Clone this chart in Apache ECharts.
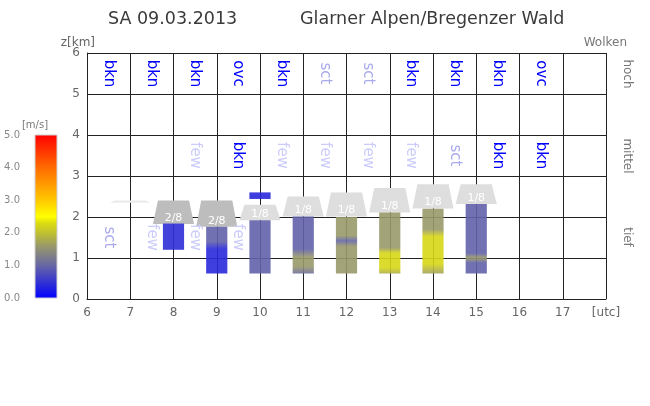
<!DOCTYPE html>
<html><head><meta charset="utf-8">
<script src="https://cdn.jsdelivr.net/npm/echarts@6/dist/echarts.min.js"></script>
<style>html,body{margin:0;padding:0;background:#fff}#c{width:650px;height:406px}</style>
</head><body><div id="c"></div>
<script>
// ---- data ----
const xTicks = [6,7,8,9,10,11,12,13,14,15,16,17,18];
const xTickLabels = ['6','7','8','9','10','11','12','13','14','15','16','17','[utc]'];
const speedTickLabels = ['0.0','1.0','2.0','3.0','4.0','5.0'];

// colour scale: wind speed [m/s] -> colour
const scaleSpeeds = [0, 1, 1.6, 2, 2.3, 2.5, 3, 4, 5];
const scaleColors = ['#0000ff','#6666a6','#99996a','#c0c030','#dcdc12','#ffff00','#ffc800','#ff6a00','#ff0000'];

// vertical wind bars (km) at hours
const barHours  = [8, 9, 10, 10, 11, 12, 13, 14, 15];
const barBottom = [1.20, 0.62, 0.62, 2.44, 0.62, 0.62, 0.62, 0.62, 0.62];
const barTop    = [1.84, 1.76, 1.92, 2.60, 2.01, 2.00, 2.11, 2.20, 2.32];
// wind speed profile per bar: [km, m/s] from top to bottom
const barProfiles = [
  [[1.84,0.45],[1.20,0.45]],
  [[1.76,0.95],[1.40,0.95],[1.22,0.4],[0.62,0.4]],
  [[1.92,0.95],[0.62,0.95]],
  [[2.60,0.4],[2.44,0.4]],
  [[2.01,0.95],[1.22,0.95],[1.02,1.6],[0.80,1.6],[0.62,1.1]],
  [[2.00,1.6],[1.55,1.6],[1.42,1.0],[1.28,1.6],[0.62,1.6]],
  [[2.11,1.6],[1.25,1.6],[1.12,2.25],[0.76,2.25],[0.62,1.8]],
  [[2.20,1.6],[1.70,1.6],[1.52,2.25],[0.86,2.25],[0.62,1.7]],
  [[2.32,0.95],[1.12,0.95],[1.00,1.6],[0.88,0.95],[0.62,0.95]]
];

// cloud cover symbols (km)
const trapHours  = [7, 8, 9, 10, 11, 12, 13, 14, 15];
const trapBottom = [2.35, 1.83, 1.76, 1.92, 2.01, 2.01, 2.11, 2.21, 2.32];
const trapTop    = [2.40, 2.40, 2.40, 2.30, 2.50, 2.60, 2.71, 2.80, 2.80];
const trapCover  = ['', '2/8', '2/8', '1/8', '1/8', '1/8', '1/8', '1/8', '1/8'];

// cloud type labels per hour cell
const cellCenters = [6.5,7.5,8.5,9.5,10.5,11.5,12.5,13.5,14.5,15.5,16.5,17.5];
const highLabels = ['bkn','bkn','bkn','ovc','bkn','sct','sct','bkn','bkn','bkn','ovc',''];
const midLabels  = ['','','few','bkn','few','few','few','few','sct','bkn','bkn',''];
const lowLabels  = ['sct','few','few','few','','','','','','','',''];
const rowHeights = [5.5, 3.5, 1.5];

// ---- helpers ----
function hex2rgb(h){return [parseInt(h.slice(1,3),16),parseInt(h.slice(3,5),16),parseInt(h.slice(5,7),16)];}
function speedColor(s){
  if (s <= scaleSpeeds[0]) return scaleColors[0];
  for (let i = 1; i < scaleSpeeds.length; i++) {
    if (s <= scaleSpeeds[i]) {
      const t = (s - scaleSpeeds[i-1]) / (scaleSpeeds[i] - scaleSpeeds[i-1]);
      const a = hex2rgb(scaleColors[i-1]), b = hex2rgb(scaleColors[i]);
      const c = a.map((v,k)=>Math.round(v + (b[k]-v)*t));
      return 'rgb(' + c.join(',') + ')';
    }
  }
  return scaleColors[scaleColors.length-1];
}
const FONT = '"DejaVu Sans", Verdana, sans-serif';

const barData = barHours.map((h,i)=>[h, barBottom[i], barTop[i], i]);
const trapData = trapHours.map((h,i)=>[h, trapBottom[i], trapTop[i], i]);
const labelData = [];
[highLabels, midLabels, lowLabels].forEach((row, r) => {
  row.forEach((t, i) => { if (t) labelData.push([cellCenters[i], rowHeights[r], t]); });
});

const chart = echarts.init(document.getElementById('c'), null, {renderer:'canvas'});
chart.setOption({
  animation: false,
  backgroundColor: '#fff',
  grid: [
    {left: 87, top: 53, width: 519, height: 246},
    {left: 35, top: 135, width: 22, height: 163}
  ],
  xAxis: [
    {gridIndex: 0, type: 'value', min: 6, max: 18, interval: 1,
     axisLine: {show: true, lineStyle: {color: '#222'}},
     axisTick: {show: false},
     splitLine: {show: true, lineStyle: {color: '#222', width: 1}},
     axisLabel: {color: '#666', fontFamily: FONT, fontSize: 12, margin: 8,
       formatter: v => { const k = xTicks.indexOf(v); return k >= 0 ? xTickLabels[k] : ''; }}},
    {gridIndex: 1, type: 'value', min: 0, max: 1, show: false}
  ],
  yAxis: [
    {gridIndex: 0, type: 'value', min: 0, max: 6, interval: 1,
     axisLine: {show: true, lineStyle: {color: '#222'}},
     axisTick: {show: false},
     splitLine: {show: true, lineStyle: {color: '#222', width: 1}},
     axisLabel: {color: '#666', fontFamily: FONT, fontSize: 12, margin: 7}},
    {gridIndex: 1, type: 'value', min: 0, max: 5, interval: 1,
     axisLine: {show: false}, axisTick: {show: false}, splitLine: {show: false},
     name: '[m/s]', nameLocation: 'end', nameGap: 5,
     nameTextStyle: {color: '#777', fontFamily: FONT, fontSize: 10, align: 'center'},
     axisLabel: {color: '#888', fontFamily: FONT, fontSize: 10, margin: 15,
       formatter: v => speedTickLabels[Math.round(v)]}}
  ],
  series: [
    { // colour bar
      type: 'custom', xAxisIndex: 1, yAxisIndex: 1, silent: true,
      data: [[0, 0, 5]],
      renderItem: (params, api) => {
        const p0 = api.coord([0, 0]), p1 = api.coord([1, 5]);
        const stops = scaleSpeeds.map((s, i) => ({offset: 1 - s / 5, color: scaleColors[i]}));
        stops.reverse();
        return {type: 'rect', shape: {x: p0[0], y: p1[1], width: p1[0] - p0[0], height: p0[1] - p1[1]},
          style: {fill: new echarts.graphic.LinearGradient(0, 0, 0, 1, stops), stroke: '#cfcfcf', lineWidth: 1}};
      }
    },
    { // cloud cover symbols
      type: 'custom', xAxisIndex: 0, yAxisIndex: 0, silent: true, z: 3,
      data: trapData,
      renderItem: (params, api) => {
        const h = api.value(0), b = api.value(1), t = api.value(2), i = api.value(3);
        const pb = api.coord([h, b]), pt = api.coord([h, t]);
        const hw = api.size([1, 0])[0];
        const bw = hw * 0.95 / 2, tw = hw * 0.72 / 2;
        const cov = trapCover[i];
        const fill = cov === '2/8' ? '#bdbdbd' : (cov === '1/8' ? '#dedede' : '#ebebeb');
        const children = [{type: 'polygon', shape: {points: [[pb[0]-bw, pb[1]], [pb[0]+bw, pb[1]], [pt[0]+tw, pt[1]], [pt[0]-tw, pt[1]]]},
          style: {fill: fill}}];
        if (cov) children.push({type: 'text', x: pb[0], y: pb[1] - 6,
          style: {text: cov, fill: '#fff', font: '11px ' + FONT, align: 'center', verticalAlign: 'middle'}});
        return {type: 'group', children: children};
      }
    },
    { // wind bars
      type: 'custom', xAxisIndex: 0, yAxisIndex: 0, silent: true, z: 4,
      data: barData,
      renderItem: (params, api) => {
        const h = api.value(0), b = api.value(1), t = api.value(2), i = api.value(3);
        const pb = api.coord([h, b]), pt = api.coord([h, t]);
        const w = api.size([1, 0])[0] * 0.49;
        const prof = barProfiles[i];
        const stops = prof.map(p => ({offset: (t - p[0]) / (t - b), color: speedColor(p[1])}));
        return {type: 'rect', shape: {x: pb[0] - w / 2, y: pt[1], width: w, height: pb[1] - pt[1]},
          style: {fill: new echarts.graphic.LinearGradient(0, 0, 0, 1, stops), opacity: 0.9}};
      }
    },
    { // cloud type labels
      type: 'custom', xAxisIndex: 0, yAxisIndex: 0, silent: true, z: 5,
      data: labelData,
      renderItem: (params, api) => {
        const d = labelData[params.dataIndex];
        const p = api.coord([d[0], d[1]]);
        const col = (d[2] === 'bkn' || d[2] === 'ovc') ? '#0000ff' : (d[2] === 'sct' ? '#aaaaee' : '#ccccfa');
        return {type: 'text', x: p[0], y: p[1], rotation: -Math.PI / 2,
          style: {text: d[2], fill: col, font: '15px ' + FONT, align: 'center', verticalAlign: 'middle'}};
      }
    }
  ],
  graphic: [
    {type: 'text', x: 108, y: 19, style: {text: 'SA 09.03.2013', fill: '#3a3a3a', font: '17.5px ' + FONT, align: 'left', verticalAlign: 'middle'}},
    {type: 'text', x: 300, y: 19, style: {text: 'Glarner Alpen/Bregenzer Wald', fill: '#3a3a3a', font: '17.5px ' + FONT, align: 'left', verticalAlign: 'middle'}},
    {type: 'text', x: 95, y: 43, style: {text: 'z[km]', fill: '#666', font: '12px ' + FONT, align: 'right', verticalAlign: 'middle'}},
    {type: 'text', x: 627, y: 43, style: {text: 'Wolken', fill: '#777', font: '12px ' + FONT, align: 'right', verticalAlign: 'middle'}},
    {type: 'text', x: 627, y: 74, rotation: -Math.PI / 2, style: {text: 'hoch', fill: '#777', font: '12px ' + FONT, align: 'center', verticalAlign: 'middle'}},
    {type: 'text', x: 627, y: 156, rotation: -Math.PI / 2, style: {text: 'mittel', fill: '#777', font: '12px ' + FONT, align: 'center', verticalAlign: 'middle'}},
    {type: 'text', x: 627, y: 237, rotation: -Math.PI / 2, style: {text: 'tief', fill: '#777', font: '12px ' + FONT, align: 'center', verticalAlign: 'middle'}}
  ]
});
</script></body></html>
